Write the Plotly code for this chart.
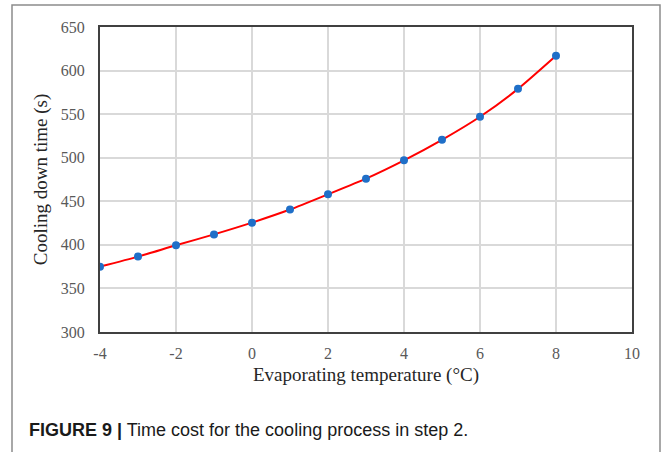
import plotly.graph_objects as go

temps = [-4, -3, -2, -1, 0, 1, 2, 3, 4, 5, 6, 7, 8]
times = [375, 386.5, 399.5, 412, 425.5, 440.5, 458, 476, 497, 520.5, 547, 579, 617]
x_ticks = [-4, -2, 0, 2, 4, 6, 8, 10]
y_ticks = [300, 350, 400, 450, 500, 550, 600, 650]

W, H = 664, 452
L, R, T, B = 100, 32, 27, 120
pw, ph = W - L - R, H - T - B

def px(xp):
    return (xp - L) / pw

def py(yp):
    return (H - B - yp) / ph

fig = go.Figure()
fig.add_trace(go.Scatter(
    x=temps, y=times, mode="lines+markers",
    line=dict(color="#ff0000", width=2, shape="spline", smoothing=0.6),
    marker=dict(color="#1f6fc8", size=8),
    showlegend=False,
))

serif = "Liberation Serif, Times New Roman, serif"
fig.update_layout(
    width=W, height=H,
    margin=dict(l=L, r=R, t=T, b=B),
    paper_bgcolor="white", plot_bgcolor="white",
    font=dict(family=serif, color="#595959", size=16),
    xaxis=dict(
        range=[-4, 10], tickvals=x_ticks, ticktext=[str(v) for v in x_ticks],
        showgrid=True, gridcolor="#d9d9d9", gridwidth=1.5,
        showline=True, linecolor="#404040", linewidth=2, mirror=True,
        ticks="outside", ticklen=6, tickcolor="rgba(0,0,0,0)", zeroline=False,
        title=dict(text="Evaporating temperature (\u00b0C)",
                   font=dict(family=serif, size=19, color="#262626"), standoff=6),
    ),
    yaxis=dict(
        range=[300, 650], tickvals=y_ticks, ticktext=[str(v) for v in y_ticks],
        showgrid=True, gridcolor="#d9d9d9", gridwidth=1.5,
        showline=True, linecolor="#404040", linewidth=2, mirror=True,
        ticks="outside", ticklen=10, tickcolor="rgba(0,0,0,0)", zeroline=False,
        title=dict(text="Cooling down time (s)",
                   font=dict(family=serif, size=19, color="#262626"), standoff=8),
    ),
    shapes=[dict(
        type="rect", xref="paper", yref="paper",
        x0=px(12), x1=px(660), y0=py(5), y1=py(470),
        line=dict(color="#8c8c8c", width=1.5), fillcolor="rgba(0,0,0,0)", layer="below",
    )],
    annotations=[dict(
        xref="paper", yref="paper", x=px(27), y=py(430),
        xanchor="left", yanchor="middle", showarrow=False,
        text="<b>FIGURE 9 |</b> Time cost for the cooling process in step 2.",
        font=dict(family="Liberation Sans, Arial, sans-serif", size=18, color="#1a1a1a"),
    )],
)

fig.write_html("out.html")
